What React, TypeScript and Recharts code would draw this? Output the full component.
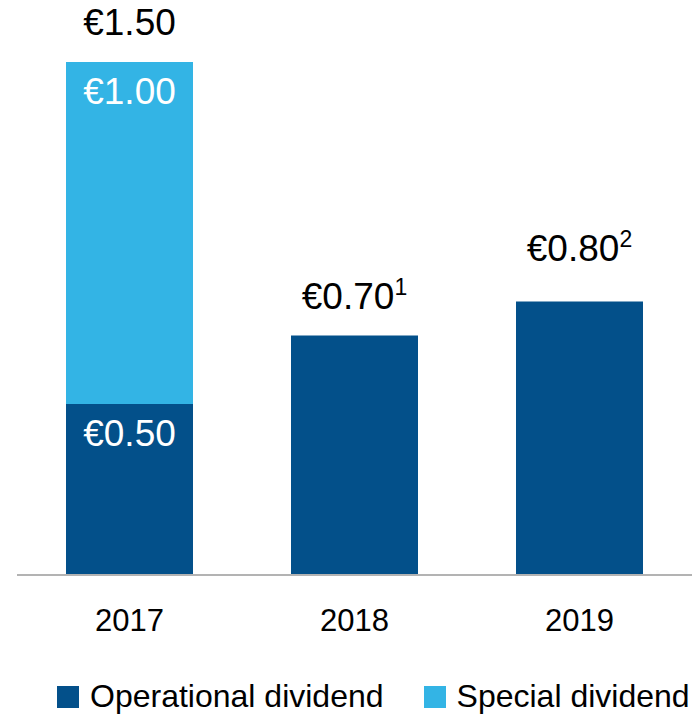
import { BarChart, Bar, XAxis, YAxis, LabelList, Legend } from "recharts";

const years = ["2017", "2018", "2019"];
const operational = [0.5, 0.7, 0.8];
const special = [1.0, 0, 0];
const footnotes = ["", "1", "2"];

const DARK = "#03508a";
const LIGHT = "#33b4e5";
const FONT = "'Liberation Sans', Arial, sans-serif";

const data = years.map((year, i) => ({
  year,
  operational: operational[i],
  special: special[i],
  total: operational[i] + special[i],
  note: footnotes[i],
}));

const euro = (v: number) => `€${v.toFixed(2)}`;

// white value printed inside the top of a segment, only where the bar is stacked
const InnerLabel = (props: any) => {
  const { x, y, width, index } = props;
  if (special[index] <= 0) return null;
  const v = props.value as number;
  return (
    <text x={x + width / 2} y={y + 42} textAnchor="middle" fill="#fff" fontSize={37} fontFamily={FONT}>
      {euro(v)}
    </text>
  );
};

// total above the whole stack, with the footnote marker.
// sits on the operational bar, so lift it by the special segment's height
const TopLabel = (props: any) => {
  const { x, y, width, height, index } = props;
  const d = data[index];
  const pxPerUnit = height / d.operational;
  const top = y - d.special * pxPerUnit;
  const lift = index === 2 ? 40 : 27;
  return (
    <text x={x + width / 2} y={top - lift} textAnchor="middle" fill="#000" fontSize={37} fontFamily={FONT}>
      {euro(d.total)}
      {d.note && (
        <tspan fontSize={23} dy={-14}>
          {d.note}
        </tspan>
      )}
    </text>
  );
};

const LegendBox = () => (
  <div
    style={{
      display: "flex",
      justifyContent: "flex-start",
      gap: 40,
      fontFamily: FONT,
      fontSize: 32,
      color: "#000",
      paddingLeft: 40,
      whiteSpace: "nowrap",
    }}
  >
    {[
      { name: "Operational dividend", color: DARK },
      { name: "Special dividend", color: LIGHT },
    ].map((it) => (
      <div key={it.name} style={{ display: "flex", alignItems: "center", gap: 11 }}>
        <span style={{ width: 22, height: 22, background: it.color, display: "inline-block" }} />
        <span>{it.name}</span>
      </div>
    ))}
  </div>
);

export default function App() {
  return (
    <div style={{ position: "absolute", left: 0, top: 0 }}>
      <BarChart
        width={700}
        height={716}
        data={data}
        margin={{ top: 62, right: 8, left: 17, bottom: 0 }}
        barSize={127}
      >
        <XAxis
          dataKey="year"
          axisLine={{ stroke: "#b3b3b3", strokeWidth: 2 }}
          tickLine={false}
          tickMargin={28}
          height={80}
          tick={{ fill: "#000", fontSize: 31, fontFamily: FONT }}
        />
        <YAxis hide domain={[0, 1.5]} />
        <Legend
          verticalAlign="bottom"
          height={61}
          content={<LegendBox />}
          wrapperStyle={{ top: 678, bottom: "auto" }}
        />
        <Bar dataKey="operational" stackId="a" fill={DARK} isAnimationActive={false}>
          <LabelList dataKey="operational" content={InnerLabel} />
          <LabelList dataKey="total" content={TopLabel} />
        </Bar>
        <Bar dataKey="special" stackId="a" fill={LIGHT} isAnimationActive={false}>
          <LabelList dataKey="special" content={InnerLabel} />
        </Bar>
      </BarChart>
    </div>
  );
}
